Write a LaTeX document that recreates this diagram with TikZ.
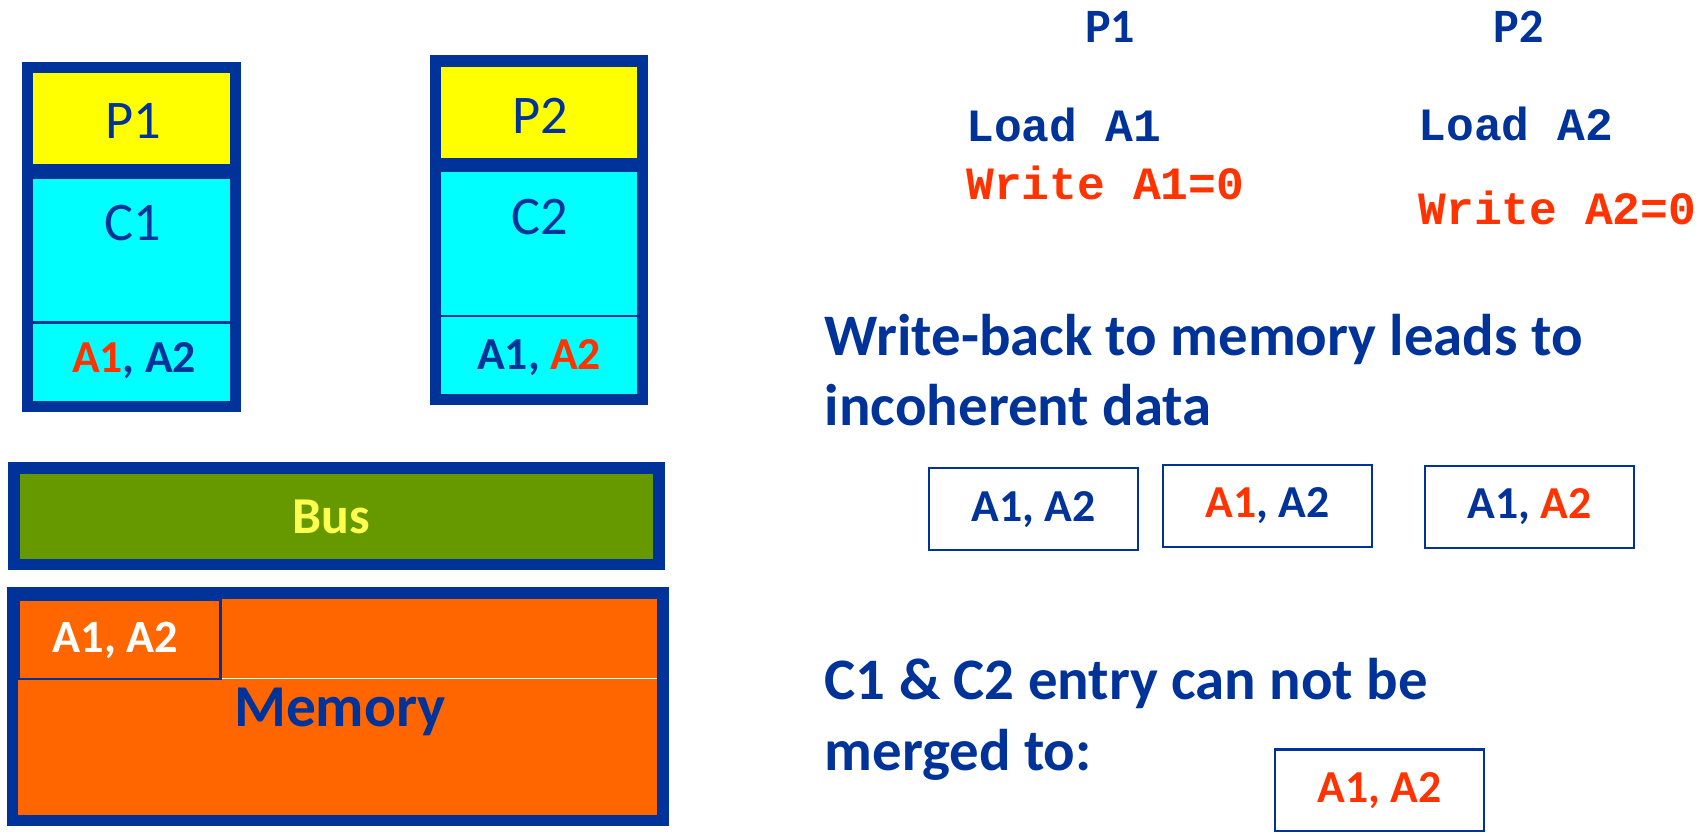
\documentclass[tikz,border=0pt]{standalone}
\usepackage{fontspec}
\setmainfont{Carlito}
\newfontfamily\codefont{Liberation Mono}
\definecolor{frameblue}{RGB}{0,51,153}
\definecolor{hotred}{RGB}{255,51,0}
\definecolor{busgreen}{RGB}{102,153,0}
\definecolor{memorange}{RGB}{255,102,0}
\definecolor{busyellow}{RGB}{255,255,80}
\definecolor{procyellow}{RGB}{255,255,0}
\definecolor{cachecyan}{RGB}{0,255,255}
\tikzset{
  unitframe/.style={draw=frameblue, line width=10.5pt, inner sep=0pt, outer sep=0pt},
  thinframe/.style={draw=frameblue, line width=2pt, inner sep=0pt, outer sep=0pt},
  unitlabel/.style={text=frameblue, inner sep=0pt, font=\fontsize{50}{60}\selectfont},
  entry/.style={text=frameblue, inner sep=0pt, font=\bfseries\fontsize{42}{50}\selectfont},
  codeline/.style={anchor=base west, inner sep=0pt, font=\codefont\bfseries\fontsize{42.5}{50}\selectfont},
  headline/.style={anchor=base, text=frameblue, inner sep=0pt, font=\bfseries\fontsize{44}{50}\selectfont},
  remark/.style={anchor=base west, text=frameblue, inner sep=0pt, font=\bfseries\fontsize{54}{65}\selectfont},
  linebox/.style={thinframe, minimum width=192pt, minimum height=75pt, text=frameblue,
    font=\bfseries\fontsize{42}{50}\selectfont},
}
\begin{document}
\begin{tikzpicture}[x=1pt, y=-1pt]
\useasboundingbox (0,0) rectangle (1568,767);
\fill[white] (0,0) rectangle (1568,767);

% processor 1 with its cache
\node[unitframe, fill=cachecyan, minimum width=191pt, minimum height=214pt] (c1box) at (120.5,266) {};
\node[unitframe, fill=procyellow, minimum width=191pt, minimum height=94pt] (p1box) at (120.5,109) {};
\draw[frameblue, line width=2.2pt] (c1box.west |- 0,296) -- (c1box.east |- 0,296);
\node[unitlabel] (p1lbl) at (122,111) {P1};
\node[unitlabel] (c1lbl) at (122,205) {C1};
\node[entry] (c1entry) at (123,331) {\textcolor{hotred}{A1}, A2};

% processor 2 with its cache
\node[unitframe, fill=cachecyan, minimum width=190pt, minimum height=214pt] (c2box) at (495,260) {};
\node[unitframe, fill=procyellow, minimum width=190pt, minimum height=94pt] (p2box) at (495,103) {};
\draw[frameblue, line width=2.2pt] (c2box.west |- 0,290) -- (c2box.east |- 0,290);
\node[unitlabel] (p2lbl) at (496,106) {P2};
\node[unitlabel] (c2lbl) at (496,199) {C2};
\node[entry] (c2entry) at (495,328) {A1, \textcolor{hotred}{A2}};

% bus
\node[unitframe, fill=busgreen, minimum width=592pt, minimum height=88.5pt] (bus) at (309,474) {};
\node[text=busyellow, inner sep=0pt, font=\bfseries\fontsize{47.5}{50}\selectfont] (buslbl) at (304,475) {Bus};

% memory
\node[unitframe, fill=memorange, minimum width=597pt, minimum height=208.5pt] (mem) at (310,648.75) {};
\coordinate (memrim) at (603,623);
\draw[white, line width=1.2pt] (202,623) -- (memrim);
\node[thinframe, minimum width=185pt, minimum height=73pt] (memline) at (110,587) {};
\node[text=white, inner sep=0pt, font=\bfseries\fontsize{42.5}{50}\selectfont] (meml) at (106,588) {A1, A2};
\node[text=frameblue, inner sep=0pt, font=\bfseries\fontsize{54.5}{60}\selectfont] (memlbl) at (312,654) {Memory};

% program on each processor
\node[headline] (h1) at (1019,39) {P1};
\node[headline] (h2) at (1394,39) {P2};
\node[codeline, text=frameblue] (l1) at (887,130) {Load A1};
\node[codeline, text=hotred] (w1) at (887,183) {Write A1=0};
\node[codeline, text=frameblue] (l2) at (1302,129) {Load A2};
\node[codeline, text=hotred] (w2) at (1302,206) {Write A2=0};

% remarks
\node[remark] (r1a) at (757,326) {Write-back to memory leads to};
\node[remark] (r1b) at (757,391) {incoherent data};
\node[linebox] (b1) at (949,467.5) {A1, A2};
\node[linebox] (b2) at (1163.5,464.5) {\textcolor{hotred}{A1}, A2};
\node[linebox] (b3) at (1404,465.5) {A1, \textcolor{hotred}{A2}};
\node[remark] (r2a) at (757,642) {C1 \& C2 entry can not be};
\node[remark] (r2b) at (757,707) {merged to:};
\node[linebox, text=hotred] (b4) at (1266.5,725.5) {A1, A2};
\end{tikzpicture}
\end{document}
